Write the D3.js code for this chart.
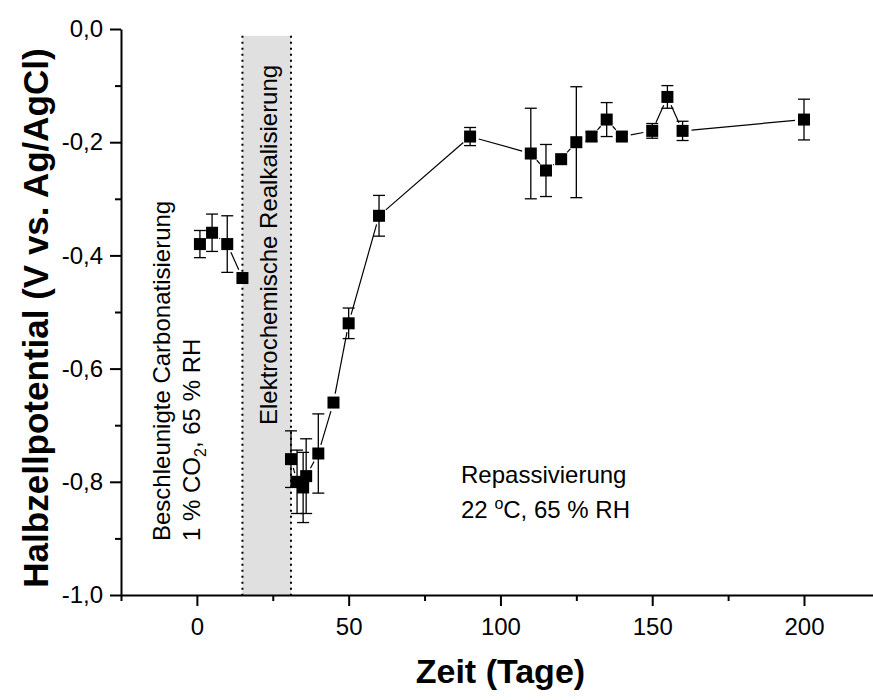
<!DOCTYPE html>
<html><head><meta charset="utf-8">
<script src="https://cdn.jsdelivr.net/npm/d3@7"></script>
<style>
body{margin:0;background:#fff}
text{font-family:"Liberation Sans",Arial,Helvetica,sans-serif;fill:#000}
</style>
</head><body><svg id="c" width="873" height="700"></svg>
<script>
// ---- data ----
const days      = [1, 5, 10, 15, 31, 33, 35, 36, 40, 45, 50, 60, 90, 110, 115, 120, 125, 130, 135, 140, 150, 155, 160, 200];
const potential = [-0.38, -0.36, -0.38, -0.44, -0.76, -0.80, -0.81, -0.79, -0.75, -0.66, -0.52, -0.33, -0.19, -0.22, -0.25, -0.23, -0.20, -0.19, -0.16, -0.19, -0.18, -0.12, -0.18, -0.16];
const errors    = [0.024, 0.033, 0.05, 0, 0.05, 0.056, 0.062, 0.066, 0.07, 0, 0.027, 0.036, 0.016, 0.08, 0.046, 0, 0.098, 0.008, 0.03, 0.006, 0.013, 0.02, 0.017, 0.036];
const segment   = [0, 0, 0, 0, 1, 1, 1, 1, 1, 1, 1, 1, 1, 1, 1, 1, 1, 1, 1, 1, 1, 1, 1, 1];
const xTicks = [0, 50, 100, 150, 200];
const xMinorTicks = [-25, 25, 75, 125, 175];
const yTicks = [0, -0.2, -0.4, -0.6, -0.8, -1.0];
const yTickLabels = ["0,0", "-0,2", "-0,4", "-0,6", "-0,8", "-1,0"];
const yMinorTicks = [-0.1, -0.3, -0.5, -0.7, -0.9];
const bandDays = [15, 31];
const bandTopValue = -0.012;

const W = 873, H = 700;
const svg = d3.select("#c");
svg.append("rect").attr("width", W).attr("height", H).attr("fill", "#fff");

const x0 = d3.scaleLinear().domain([-25, 200]).range([121, 804]);
const x = d3.scaleLinear().domain([-25, x0.invert(W)]).range([121, W]);
const y = d3.scaleLinear().domain([-1, 0]).range([595, 29]);

// band
svg.append("rect")
  .attr("x", x(bandDays[0])).attr("y", y(bandTopValue))
  .attr("width", x(bandDays[1]) - x(bandDays[0]))
  .attr("height", y(-1) - y(bandTopValue))
  .attr("fill", "#e0e0e0");
bandDays.forEach(d => {
  svg.append("line")
    .attr("x1", x(d)).attr("x2", x(d))
    .attr("y1", y(bandTopValue)).attr("y2", y(-1))
    .attr("stroke", "#000").attr("stroke-width", 2)
    .attr("stroke-dasharray", "2,4");
});

// axes
const fs = 24;
const gy = svg.append("g").attr("transform", `translate(${x(-25)},0)`)
  .call(d3.axisLeft(y).tickValues(yTicks).tickFormat((d, i) => yTickLabels[i])
    .tickSize(11).tickSizeOuter(0).tickPadding(7));
svg.append("g").attr("transform", `translate(${x(-25)},0)`)
  .call(d3.axisLeft(y).tickValues(yMinorTicks).tickFormat("").tickSize(6).tickSizeOuter(0))
  .select(".domain").remove();
const gx = svg.append("g").attr("transform", `translate(0,${y(-1)})`)
  .call(d3.axisBottom(x).tickValues(xTicks).tickFormat(d3.format("d"))
    .tickSize(11).tickSizeOuter(0).tickPadding(12));
svg.append("g").attr("transform", `translate(0,${y(-1)})`)
  .call(d3.axisBottom(x).tickValues(xMinorTicks).tickFormat("").tickSize(6).tickSizeOuter(0))
  .select(".domain").remove();
svg.selectAll(".domain, .tick line").attr("stroke", "#000").attr("stroke-width", 2);
svg.selectAll(".tick text").attr("font-size", fs).attr("font-family", '"Liberation Sans",Arial,sans-serif').attr("fill", "#000");

// axis titles
svg.append("text").attr("x", x0(100)).attr("y", 683).attr("text-anchor", "middle")
  .attr("font-size", 34).attr("font-weight", "bold").text("Zeit (Tage)");
svg.append("text").attr("transform", `translate(48,${(y(0) + y(-1)) / 2 + 6}) rotate(-90)`)
  .attr("text-anchor", "middle").attr("font-size", 35).attr("font-weight", "bold")
  .text("Halbzellpotential (V vs. Ag/AgCl)");

// data
const pts = days.map((d, i) => ({d, v: potential[i], e: errors[i], s: segment[i]}));

// lines with gaps
const gap = 9;
for (let i = 1; i < pts.length; i++) {
  const a = pts[i - 1], b = pts[i];
  if (a.s !== b.s) continue;
  const ax = x(a.d), ay = y(a.v), bx = x(b.d), by = y(b.v);
  const L = Math.hypot(bx - ax, by - ay);
  if (L <= 2 * gap) continue;
  const ux = (bx - ax) / L, uy = (by - ay) / L;
  svg.append("line")
    .attr("x1", ax + ux * gap).attr("y1", ay + uy * gap)
    .attr("x2", bx - ux * gap).attr("y2", by - uy * gap)
    .attr("stroke", "#000").attr("stroke-width", 1.2);
}

// error bars
const cap = 6;
const eb = svg.append("g").attr("stroke", "#000").attr("stroke-width", 1.3);
pts.filter(p => p.e > 0).forEach(p => {
  const cx = x(p.d);
  eb.append("line").attr("x1", cx).attr("x2", cx).attr("y1", y(p.v - p.e)).attr("y2", y(p.v + p.e));
  eb.append("line").attr("x1", cx - cap).attr("x2", cx + cap).attr("y1", y(p.v - p.e)).attr("y2", y(p.v - p.e));
  eb.append("line").attr("x1", cx - cap).attr("x2", cx + cap).attr("y1", y(p.v + p.e)).attr("y2", y(p.v + p.e));
});

// markers
const ms = 12;
svg.append("g").selectAll("rect").data(pts).join("rect")
  .attr("x", p => x(p.d) - ms / 2).attr("y", p => y(p.v) - ms / 2)
  .attr("width", ms).attr("height", ms).attr("fill", "#000");

// annotations
const t1 = svg.append("text").attr("transform", `translate(170,541) rotate(-90)`).attr("font-size", fs)
  .text("Beschleunigte Carbonatisierung");
const t2 = svg.append("text").attr("transform", `translate(200,541) rotate(-90)`).attr("font-size", fs);
t2.append("tspan").text("1 % CO");
t2.append("tspan").attr("font-size", 16).attr("dy", 6).text("2");
t2.append("tspan").attr("dy", -6).text(", 65 % RH");
svg.append("text").attr("transform", `translate(277,425) rotate(-90)`).attr("font-size", fs)
  .text("Elektrochemische Realkalisierung");
svg.append("text").attr("x", 461).attr("y", 483).attr("font-size", fs).text("Repassivierung");
const t3 = svg.append("text").attr("x", 461).attr("y", 518).attr("font-size", fs);
t3.append("tspan").text("22 ");
t3.append("tspan").attr("font-size", 16).attr("dy", -9).text("o");
t3.append("tspan").attr("dy", 9).text("C, 65 % RH");
</script>
</body></html>
